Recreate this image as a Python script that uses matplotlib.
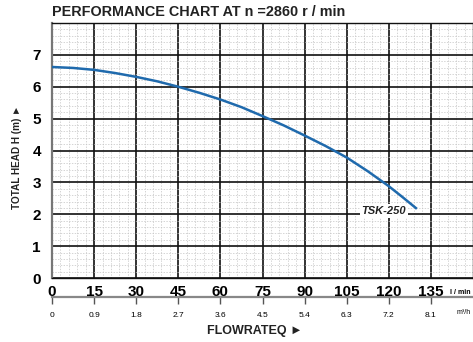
import matplotlib
matplotlib.use("Agg")
import matplotlib.pyplot as plt
from matplotlib.ticker import MultipleLocator

plt.rcParams['font.family'] = ['Liberation Sans', 'DejaVu Sans']

# Pump performance curve (flow in l/min, head in m)
flow_lpm = [0, 7.5, 15, 22.5, 30, 37.5, 45, 52.5, 60, 67.5, 75, 82.5, 90,
            97.5, 105, 112.5, 120, 125, 130]
head_m = [6.62, 6.59, 6.53, 6.43, 6.31, 6.17, 6.0, 5.81, 5.6, 5.36, 5.08, 4.79, 4.47,
          4.14, 3.78, 3.35, 2.88, 2.53, 2.17]
curve_name = "TSK-250"

flow_ticks_lpm = [0, 15, 30, 45, 60, 75, 90, 105, 120, 135]
flow_ticks_m3h = ["0", "0.9", "1.8", "2.7", "3.6", "4.5", "5.4", "6.3", "7.2", "8.1"]
head_ticks = [0, 1, 2, 3, 4, 5, 6, 7]

title_text = "PERFORMANCE CHART AT n =2860 r / min"

W, H = 473, 342
fig = plt.figure(figsize=(W / 100, H / 100), dpi=100)
ax = fig.add_axes([52 / W, (H - 278) / H, (W - 52) / W, (278 - 23) / H])

ax.set_xlim(0, 150)
ax.set_ylim(0, 8)

ax.xaxis.set_major_locator(MultipleLocator(15))
ax.xaxis.set_minor_locator(MultipleLocator(3))
ax.yaxis.set_major_locator(MultipleLocator(1))
ax.yaxis.set_minor_locator(MultipleLocator(0.2))

ax.grid(which='minor', color='#c4c4c4', linestyle=(0, (2, 2)), linewidth=0.5)
ax.grid(which='major', color='#111111', linestyle='-', linewidth=1.2)
ax.set_axisbelow(True)

for side in ['top', 'right', 'bottom']:
    ax.spines[side].set_color('#111111')
    ax.spines[side].set_linewidth(1.0)
ax.spines['left'].set_color('#777777')
ax.spines['left'].set_linewidth(1.6)

# Curve
ax.plot(flow_lpm, head_m, color='#1f6aad', linewidth=1.8, solid_capstyle='butt', zorder=3)

# Curve label with white backing
ax.text(118.3, 2.1, curve_name, fontsize=8, fontstyle='italic', fontweight='bold',
        color='#222222', ha='center', va='center',
        bbox=dict(facecolor='white', edgecolor='none', pad=1.5), zorder=4)

# Primary x ticks (l/min)
ax.set_xticks(flow_ticks_lpm)
ax.set_xticklabels([str(v) for v in flow_ticks_lpm])
ax.tick_params(axis='x', which='both', length=0, pad=5, labelsize=11)
for t in ax.get_xticklabels():
    t.set_fontweight('bold')

ax.set_yticks(head_ticks)
ax.set_yticklabels([str(v) for v in head_ticks])
ax.tick_params(axis='y', which='both', length=0, pad=8, labelsize=11)
for t in ax.get_yticklabels():
    t.set_fontweight('bold')

# Secondary x axis (m3/h)
sec = ax.secondary_xaxis(-19 / 255)
sec.set_xticks(flow_ticks_lpm)
sec.set_xticklabels(flow_ticks_m3h)
sec.tick_params(axis='x', direction='out', length=5, width=1.0, color='#555555',
                labelsize=6, pad=6)
sec.spines['bottom'].set_color('#888888')
sec.spines['bottom'].set_linewidth(1.6)

# Units on the right edge
fig.text(471 / W, 1 - 292 / H, "l / min", fontsize=5, fontweight='bold', ha='right', va='center')
fig.text(471 / W, 1 - 312 / H, "m\u00b3/h", fontsize=5, ha='right', va='center')

# Titles
fig.text(52 / W, 1 - 12 / H, title_text, fontsize=10.4, fontweight='bold',
         ha='left', va='center', color='#222222')
fig.text(255 / W, 1 - 331 / H, "FLOWRATEQ \u25ba", fontsize=9, fontweight='bold',
         ha='center', va='center', color='#222222')
fig.text(17 / W, 1 - 157 / H, "TOTAL HEAD H (m) \u25ba", fontsize=7.2, fontweight='bold',
         rotation=90, ha='center', va='center', color='#222222')

fig.savefig("out.png", dpi=100)
